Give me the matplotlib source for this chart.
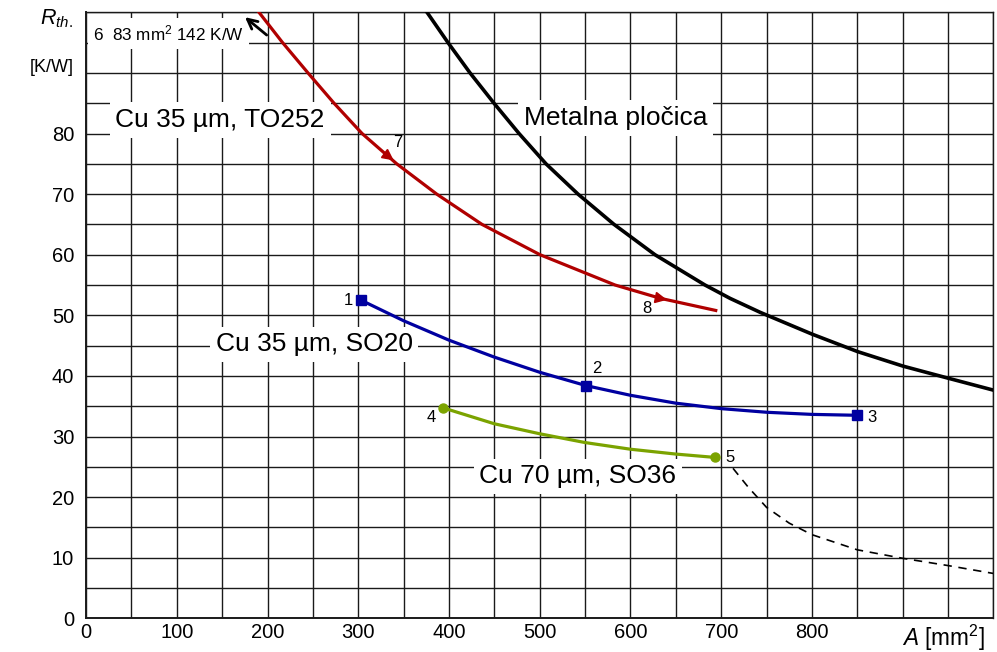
import numpy as np
import matplotlib.pyplot as plt
from matplotlib.markers import MarkerStyle
from matplotlib.transforms import Affine2D

plt.rcParams['font.family'] = ['Liberation Sans', 'DejaVu Sans']
plt.rcParams['mathtext.fontset'] = 'custom'
plt.rcParams['mathtext.rm'] = 'Liberation Sans'
plt.rcParams['mathtext.it'] = 'Liberation Sans:italic'

# Curves (A in mm^2, Rth in K/W)
to252_x = [190.6, 216.6, 244.6, 273.3, 304.2, 342.4, 386.5, 436.4, 500.3, 583, 633, 694]
to252_y = [100, 95, 90, 85, 80, 75, 70, 65, 60, 55, 52.8, 50.8]

plate_x = [375.8, 398.9, 423.2, 449.6, 477.2, 506.9, 542.2, 581.9, 627.0, 682.1, 709.7,
           742.8, 800, 850.5, 900.7, 950.7, 1000]
plate_y = [100, 95, 90, 85, 80, 75, 70, 65, 60, 55, 52.8, 50.5, 46.9, 44.0, 41.6, 39.6, 37.65]

so20_x = [303, 350, 400, 450, 500, 551, 600, 650, 700, 750, 800, 850]
so20_y = [52.5, 49.1, 45.9, 43.1, 40.6, 38.4, 36.8, 35.5, 34.6, 34.0, 33.65, 33.5]

so36_x = [393, 450, 500, 550, 600, 650, 693]
so36_y = [34.75, 32.1, 30.45, 29.0, 27.9, 27.1, 26.55]

ext_x = [713, 730, 750, 775, 800, 850, 900, 950, 1000]
ext_y = [24.75, 21.6, 18.3, 15.7, 13.8, 11.3, 9.9, 8.7, 7.4]

# Numbered measurement points
so20_pts_x = [303, 551, 850]
so20_pts_y = [52.5, 38.4, 33.5]
so36_pts_x = [393, 693]
so36_pts_y = [34.75, 26.55]
to252_pts_x = [333, 633]
to252_pts_y = [76.3, 52.8]

x_labels = ['0', '100', '200', '300', '400', '500', '600', '700', '800']
y_labels = ['0', '10', '20', '30', '40', '50', '60', '70', '80']

red = '#B00000'
blue = '#0000A0'
green = '#7BA300'

fig = plt.figure(figsize=(9.97, 6.52), dpi=100)
ax = fig.add_axes([0.0863, 0.0517, 0.9101, 0.9294])
ax.set_xlim(0, 1000)
ax.set_ylim(0, 100)

xt = np.arange(0, 1001, 50)
yt = np.arange(0, 101, 5)
ax.set_xticks(xt)
ax.set_yticks(yt)
ax.set_xticklabels([x_labels[i // 2] if (i % 2 == 0 and i // 2 < len(x_labels)) else '' for i in range(len(xt))])
ax.set_yticklabels([y_labels[i // 2] if (i % 2 == 0 and i // 2 < len(y_labels)) else '' for i in range(len(yt))])
ax.tick_params(length=0, labelsize=14.5)
ax.tick_params(axis='x', pad=3.5)
ax.tick_params(axis='y', pad=8.6)
ax.grid(True, color='#1a1a1a', lw=1.0)
ax.set_axisbelow(True)
for s in ax.spines.values():
    s.set_linewidth(1.0)
    s.set_color('#1a1a1a')
ax.spines['left'].set_linewidth(1.4)
ax.spines['bottom'].set_linewidth(1.4)

# curves (above the label boxes)
ax.plot(plate_x, plate_y, color='black', lw=2.6, zorder=7)
ax.plot(to252_x, to252_y, color=red, lw=2.3, zorder=7)
ax.plot(so20_x, so20_y, color=blue, lw=2.3, zorder=7)
ax.plot(so36_x, so36_y, color=green, lw=2.3, zorder=7)
ax.plot(ext_x, ext_y, color='black', lw=1.2, dashes=(5, 4), zorder=7)

ax.plot(so20_pts_x, so20_pts_y, 's', color=blue, ms=6.5, zorder=8)
ax.plot(so36_pts_x, so36_pts_y, 'o', color=green, ms=6.5, zorder=8)
for px, py, ang in zip(to252_pts_x, to252_pts_y, [-38, -14]):
    m = MarkerStyle('>', transform=Affine2D().rotate_deg(ang))
    ax.plot(px, py, marker=m, color=red, ms=7, zorder=8)

# point numbers
nums = [('1', 303, 52.5, (-13, 0)), ('2', 551, 38.4, (11, 17)), ('3', 850, 33.5, (15, -2)),
        ('4', 393, 34.75, (-11, -10)), ('5', 693, 26.55, (15, 0)),
        ('7', 333, 76.3, (10, 13)), ('8', 633, 52.8, (-14, -10))]
for t, px, py, off in nums:
    ax.annotate(t, (px, py), xytext=off, textcoords='offset pixels',
                ha='center', va='center', fontsize=12, zorder=9)

# curve labels
box = dict(boxstyle='square,pad=0.22', fc='white', ec='none')
ax.text(147.7, 82.2, 'Cu 35 µm, TO252', fontsize=19, ha='center', va='center', bbox=box, zorder=6)
ax.text(583.5, 82.6, 'Metalna pločica', fontsize=19, ha='center', va='center', bbox=box, zorder=6)
ax.text(251.3, 45.2, 'Cu 35 µm, SO20', fontsize=19, ha='center', va='center', bbox=box, zorder=6)
ax.text(542, 23.4, 'Cu 70 µm, SO36', fontsize=19, ha='center', va='center', bbox=box, zorder=6)

# off-scale point 6
ax.text(7.4, 96.5, '6  83 mm$^2$ 142 K/W', fontsize=12.3, ha='left', va='center',
        bbox=dict(boxstyle='square,pad=0.3', fc='white', ec='none'), zorder=6)
ax.annotate('', xy=(175.2, 99.2), xytext=(199.1, 96.25),
            arrowprops=dict(arrowstyle='->,head_length=0.7,head_width=0.35', lw=2, color='black',
                            shrinkA=0, shrinkB=0), zorder=9)

# axis labels
fig.text(73 / 997, 1 - 19 / 652, '$R_{th.}$', fontsize=15.5, ha='right', va='center')
fig.text(74 / 997, 1 - 68 / 652, '[K/W]', fontsize=13, ha='right', va='center')
fig.text(902 / 997, 1 - 638 / 652, '$A$ [mm$^2$]', fontsize=16.3, ha='left', va='center')

fig.savefig('out.png', dpi=100)
plt.close('all')
